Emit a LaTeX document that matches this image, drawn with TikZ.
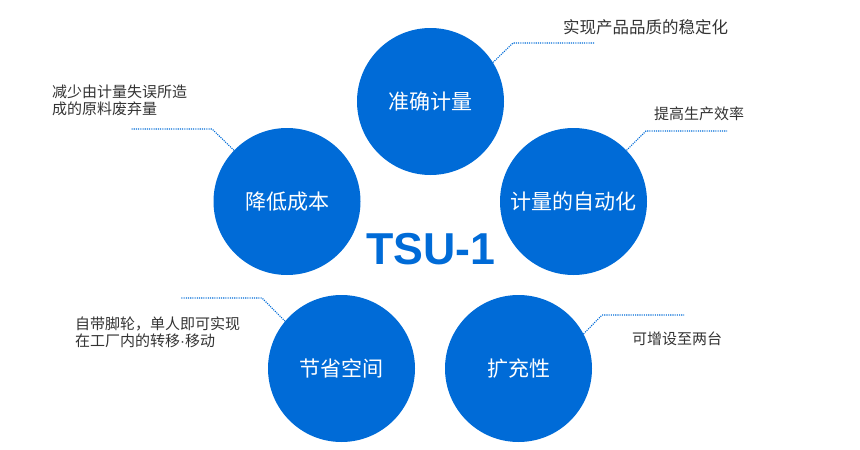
\documentclass[tikz,border=0pt]{standalone}
\usepackage{fontspec}
\setmainfont{Liberation Sans}
\newfontfamily\cjk{Noto Sans CJK SC}
\definecolor{tsublue}{RGB}{0,107,215}
\definecolor{notegray}{RGB}{51,51,51}

\begin{document}
\begin{tikzpicture}[x=1pt, y=-1pt,
    bubble/.style={circle, fill=tsublue, minimum size=147pt, inner sep=0pt, text=white, font=\cjk\fontsize{21}{24}\selectfont},
    note/.style={anchor=west, inner sep=0pt, align=left, text=notegray, font=\cjk\fontsize{15}{17.5}\selectfont},
    lead/.style={tsublue, line width=1.1pt, dash pattern=on 1.1pt off 1.1pt}]
    \useasboundingbox (0,0) rectangle (860,450);

    % 五个圆
    \node[bubble] (acc) at (430.5,101.5) {准确计量};
    \node[bubble] (cost) at (287,201.5) {降低成本};
    \node[bubble] (auto) at (573.5,201.5) {计量的自动化};
    \node[bubble] (space) at (341.5,368.5) {节省空间};
    \node[bubble] (ext) at (518.5,368.5) {扩充性};

    % 中心标题
    \node[text=tsublue, inner sep=0pt, font=\bfseries\fontsize{44.7}{50}\selectfont] (title) at (431,249) {TSU-1};

    % 说明文字
    \node[note, font=\cjk\fontsize{16.5}{19}\selectfont] (accnote) at (563,27) {实现产品品质的稳定化};
    \node[note] (costnote) at (52,100.2) {减少由计量失误所造\\成的原料废弃量};
    \node[note] (autonote) at (654,113.5) {提高生产效率};
    \node[note] (spacenote) at (75,332.5) {自带脚轮，单人即可实现\\在工厂内的转移{\normalfont·}移动};
    \node[note] (extnote) at (632,339) {可增设至两台};

    % 引线
    \coordinate (accbend) at (513,43);
    \coordinate (accend) at (595,43);
    \coordinate (costbend) at (212,129);
    \coordinate (costend) at (131,129);
    \coordinate (autobend) at (646,131);
    \coordinate (autoend) at (727,131);
    \coordinate (spacebend) at (262,298);
    \coordinate (spaceend) at (181,298);
    \coordinate (extbend) at (602,315);
    \coordinate (extend) at (684,315);
    \draw[lead] (acc.32) -- (accbend) -- (accend);
    \draw[lead] (cost.136) -- (costbend) -- (costend);
    \draw[lead] (auto.44) -- (autobend) -- (autoend);
    \draw[lead] (space.140) -- (spacebend) -- (spaceend);
    \draw[lead] (ext.28) -- (extbend) -- (extend);
\end{tikzpicture}
\end{document}
